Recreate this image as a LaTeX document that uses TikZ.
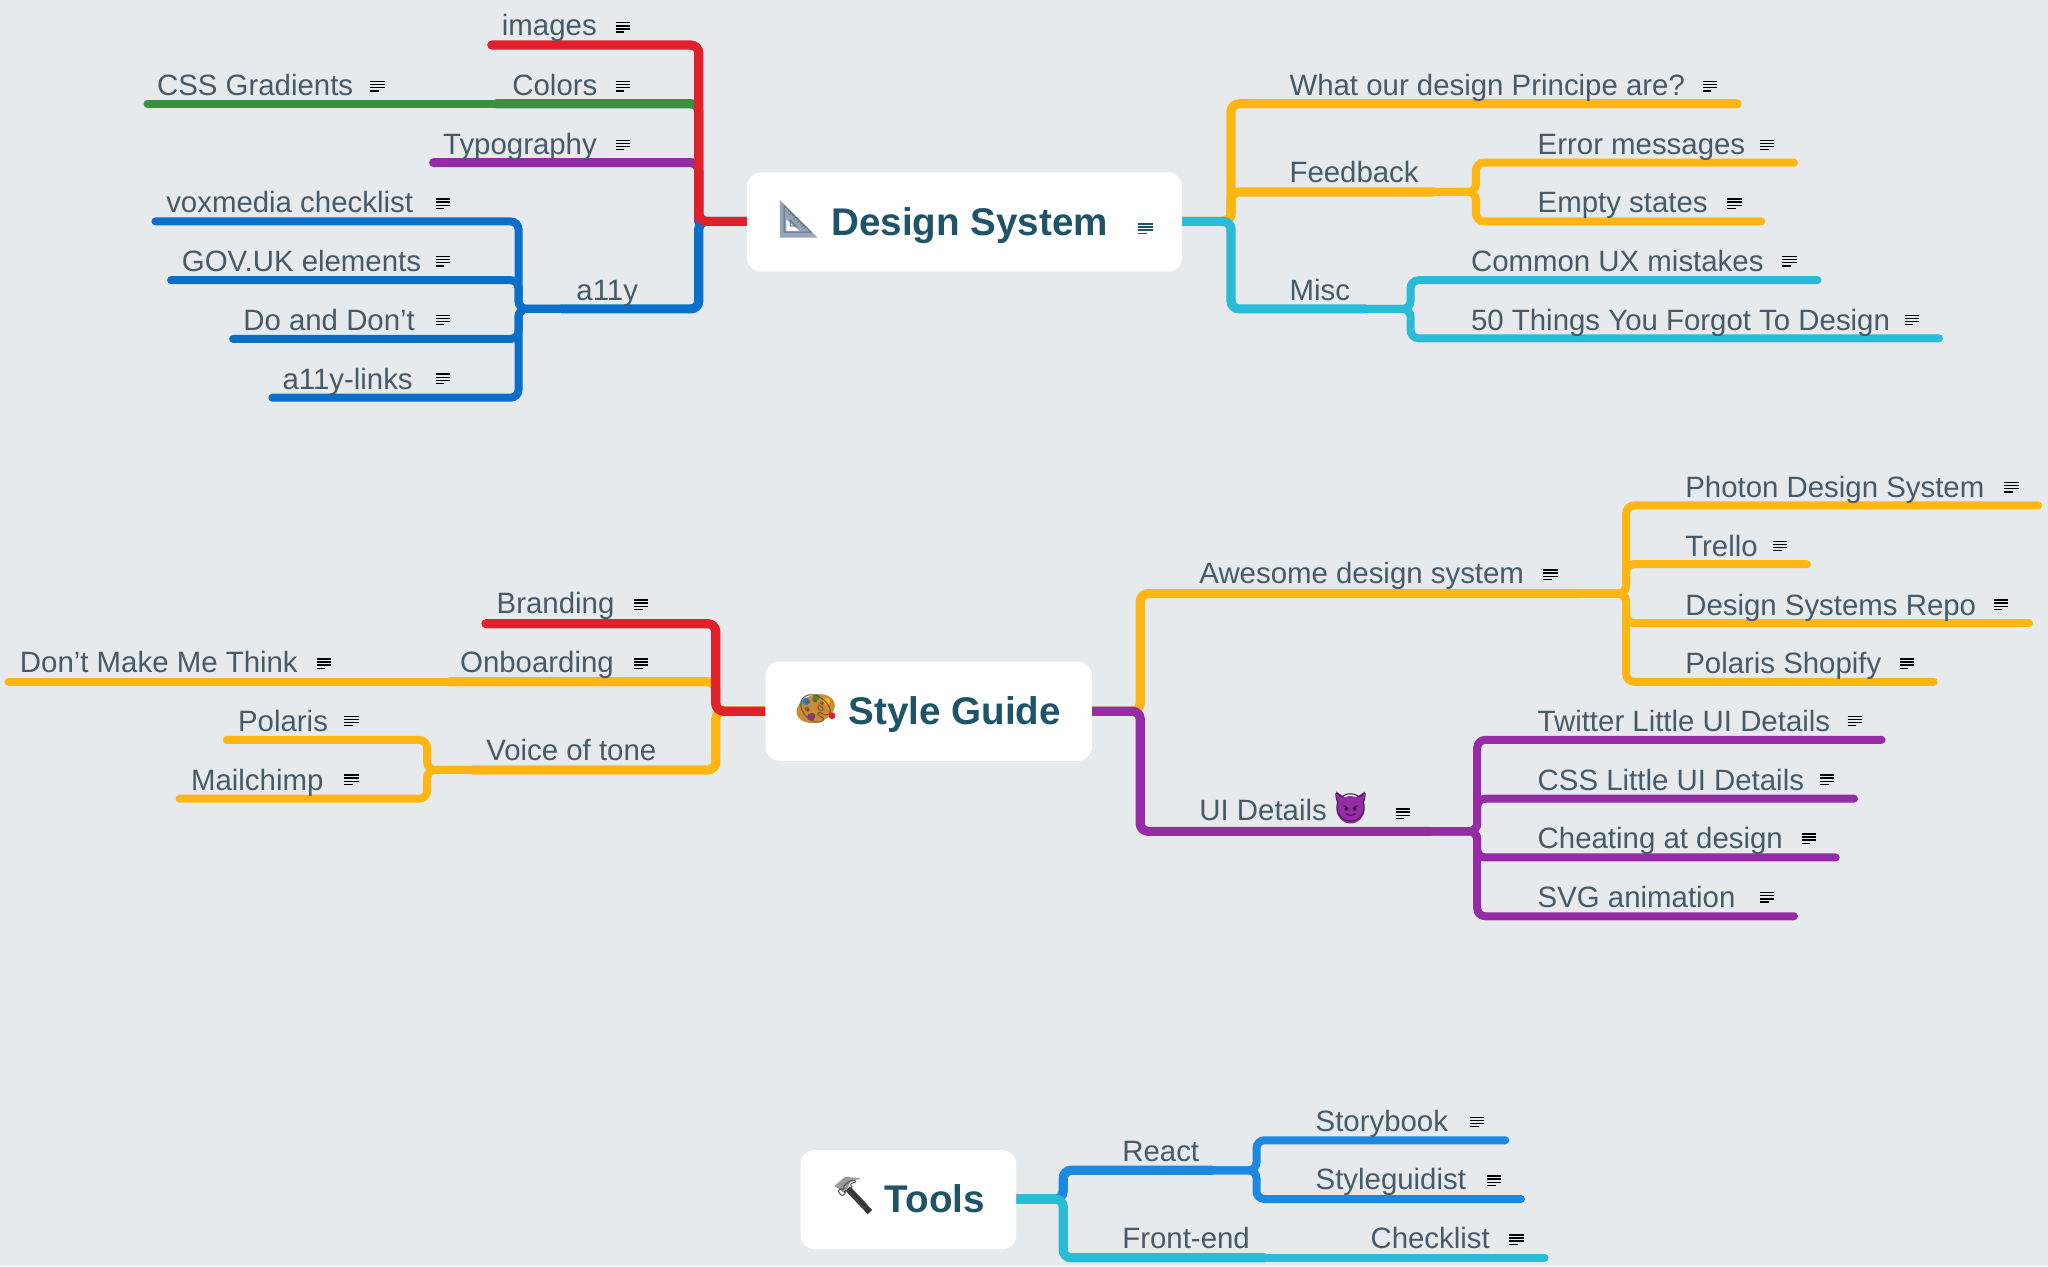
\documentclass[tikz,border=0pt]{standalone}
\usepackage{fontspec}
\setmainfont{Liberation Sans}
\newfontfamily\emojifont{Noto Emoji}
\definecolor{paper}{HTML}{E7EAED}
\definecolor{labelgray}{HTML}{465A68}
\definecolor{roottext}{HTML}{1F5468}
\definecolor{mapred}{HTML}{E0212C}
\definecolor{mapgreen}{HTML}{3A913F}
\definecolor{mappurple}{HTML}{952BA5}
\definecolor{mapblue}{HTML}{0A6FC8}
\definecolor{mapsky}{HTML}{1C88E0}
\definecolor{mapamber}{HTML}{FFB612}
\definecolor{mapcyan}{HTML}{2ABBD6}
\definecolor{setsquare}{HTML}{93A4BB}
\definecolor{palette}{HTML}{C98A3A}
\pgfdeclarelayer{lines}
\pgfsetlayers{lines,main}
\tikzset{
  topic/.style={anchor=base west, inner sep=0pt, text=labelgray, font=\fontsize{14.7}{16}\selectfont},
  root/.style={fill=white, rounded corners=7pt, inner sep=0pt, text=roottext, text height=16pt, text depth=3pt,
    font=\fontsize{19.3}{22}\selectfont\bfseries},
  branch/.style={draw=#1, line width=4.6pt, rounded corners=4pt, line cap=round},
  twig/.style={draw=#1, line width=4pt, rounded corners=4pt, line cap=round},
  emoji/.style={inner sep=0pt, font=\fontsize{14}{16}\selectfont\emojifont},
  notes/.pic={
    \draw[line width=.7pt, draw=#1] (-5.5,-3.6) -- (5.5,-3.6) (-5.5,-1.2) -- (5.5,-1.2) (-5.5,1.2) -- (5.5,1.2) (-5.5,3.6) -- (1,3.6);
  },
  notes/.default=labelgray
}
\begin{document}
\begin{tikzpicture}[x=0.6531pt, y=-0.6531pt]
\begin{pgfonlayer}{lines}
\fill[paper] (0,0) rectangle (1568,969.3);
\end{pgfonlayer}
\useasboundingbox (0,0) rectangle (1568,969.3);

% Design System
\node at (738.5,170) (designSystem) [root, minimum width=217.5pt, minimum height=49.6pt] {\hspace{5pt}Design System};
\fill[setsquare] (597,153) -- (626,182) -- (597,182) -- cycle;
\fill[white] (602,168) -- (612,177) -- (602,177) -- cycle;
\node at (611,168) (setSquare) [emoji, text=setsquare!70!black] {📐};
\pic at (877,175) {notes=roottext};
\coordinate (dsLeft) at (535,169.5);
\coordinate (dsRight) at (942.5,169.5);

% left side
\node at (384,27.5) (images) [topic] {images};
\node at (120,73) (cssGradients) [topic] {CSS Gradients};
\node at (392,73) (colors) [topic] {Colors};
\node at (339,118) (typography) [topic] {Typography};
\node at (441,230) (a11y) [topic] {a11y};
\node at (127,163) (voxmedia) [topic] {voxmedia checklist};
\node at (139,208) (govuk) [topic] {GOV.UK elements};
\node at (186,253) (doDont) [topic] {Do and Don’t};
\node at (216,298) (a11yLinks) [topic] {a11y-links};
\coordinate (imagesEnd) at (376.5,34.5);
\coordinate (colorsEnd) at (380,79.5);
\coordinate (cssEnd) at (113,79.5);
\coordinate (typographyEnd) at (332,124.5);
\coordinate (a11yEnd) at (430,236.5);
\coordinate (a11yJoint) at (397,236.5);
\coordinate (voxEnd) at (119,169.5);
\coordinate (govukEnd) at (131,214.5);
\coordinate (doDontEnd) at (178.5,259.5);
\coordinate (linksEnd) at (208.5,304.5);
\pic at (477,21) {notes};
\pic at (289,66) {notes};
\pic at (477,66) {notes};
\pic at (477,111) {notes};
\pic at (339,156) {notes};
\pic at (339,200) {notes};
\pic at (339,245) {notes};
\pic at (339,290) {notes};

% right side
\node at (987,73) (principle) [topic] {What our design Principe are?};
\node at (987,140) (feedback) [topic] {Feedback};
\node at (1177,118) (errorMsg) [topic] {Error messages};
\node at (1177,163) (emptyStates) [topic] {Empty states};
\node at (987,230) (misc) [topic] {Misc};
\node at (1126,208) (uxMistakes) [topic] {Common UX mistakes};
\node at (1126,253) (fiftyThings) [topic] {50 Things You Forgot To Design};
\coordinate (principleEnd) at (1330,79.5);
\coordinate (feedbackEnd) at (1098,147);
\coordinate (feedbackJoint) at (1130,147);
\coordinate (errorEnd) at (1373.5,124.5);
\coordinate (emptyEnd) at (1348.5,169.5);
\coordinate (miscEnd) at (1045,236.5);
\coordinate (miscJoint) at (1080,236.5);
\coordinate (uxEnd) at (1391.5,214.5);
\coordinate (fiftyEnd) at (1484.5,259);
\pic at (1309,66) {notes};
\pic at (1353,111) {notes};
\pic at (1328,156) {notes};
\pic at (1370,200) {notes};
\pic at (1464,245) {notes};

% Style Guide
\node at (711,544.5) (styleGuide) [root, minimum width=163.3pt, minimum height=49.6pt] {\hspace{26pt}Style Guide};
\fill[rotate around={18:(624.5,542.5)}, fill=palette] (624.5,542.5) ellipse (15 and 10.5);
\fill[mapsky] (617,537) circle (3);
\fill[mapgreen] (625,534) circle (2.6);
\fill[mapamber] (633,537) circle (2.6);
\fill[mapred] (637,548) circle (2.6);
\fill[mappurple] (621,549) circle (3);
\node at (624.5,542.5) (paletteIcon) [emoji, text=palette!60!black] {🎨};
\coordinate (sgLeft) at (548,544.5);
\coordinate (sgRight) at (873,544.5);
\node at (380,470) (branding) [topic] {Branding};
\node at (352,515) (onboarding) [topic] {Onboarding};
\node at (15,515) (dontThink) [topic] {Don’t Make Me Think};
\node at (372,582) (voiceTone) [topic] {Voice of tone};
\node at (182,560) (polaris) [topic] {Polaris};
\node at (146,605) (mailchimp) [topic] {Mailchimp};
\coordinate (brandingEnd) at (372,477.5);
\coordinate (onboardingEnd) at (344,522);
\coordinate (dontEnd) at (6.5,522);
\coordinate (voiceEnd) at (362,589.5);
\coordinate (voiceJoint) at (327,589.5);
\coordinate (polarisEnd) at (173.5,566.5);
\coordinate (mailchimpEnd) at (137.5,611.5);
\pic at (491,463) {notes};
\pic at (491,508) {notes};
\pic at (248,508) {notes};
\pic at (269,552) {notes};
\pic at (269,597) {notes};

\node at (918,447) (awesome) [topic] {Awesome design system};
\node at (1290,381) (photon) [topic] {Photon Design System};
\node at (1290,426) (trello) [topic] {Trello};
\node at (1290,471) (dsRepo) [topic] {Design Systems Repo};
\node at (1290,516) (shopify) [topic] {Polaris Shopify};
\node at (918,628) (uiDetails) [topic] {UI Details};
\fill[mappurple] (1034,620) circle (10.5);
\fill[mappurple] (1023,606) -- (1032,612) -- (1024,620) -- cycle;
\fill[mappurple] (1045,606) -- (1036,612) -- (1044,620) -- cycle;
\node at (1034,618) (devil) [emoji, text=mappurple!45!black] {😈};
\node at (1177,560) (twitterUi) [topic] {Twitter Little UI Details};
\node at (1177,605) (cssUi) [topic] {CSS Little UI Details};
\node at (1177,650) (cheating) [topic] {Cheating at design};
\node at (1177,695) (svgAnim) [topic] {SVG animation};
\coordinate (awesomeEnd) at (1210,454.5);
\coordinate (awesomeJoint) at (1245,454.5);
\coordinate (photonEnd) at (1560.5,387);
\coordinate (trelloEnd) at (1383.5,432);
\coordinate (repoEnd) at (1553.5,477);
\coordinate (shopifyEnd) at (1480.5,522);
\coordinate (uiEnd) at (1095,636.5);
\coordinate (uiJoint) at (1131,636.5);
\coordinate (twitterEnd) at (1440.5,566.5);
\coordinate (cssUiEnd) at (1419.5,611.5);
\coordinate (cheatingEnd) at (1405.5,656.5);
\coordinate (svgEnd) at (1373.5,701.5);
\pic at (1187,440) {notes};
\pic at (1540,373) {notes};
\pic at (1363,418) {notes};
\pic at (1532,463) {notes};
\pic at (1460,508) {notes};
\pic at (1074,623) {notes};
\pic at (1420,552) {notes};
\pic at (1399,597) {notes};
\pic at (1385,642) {notes};
\pic at (1353,687) {notes};

% Tools
\node at (695.5,918.5) (tools) [root, minimum width=107.8pt, minimum height=49.6pt] {\hspace{26.5pt}Tools};
\draw[line width=3pt, black!80] (649,910) -- (666,928);
\fill[black!40] (639,908) -- (647,901) -- (659,902) -- (651,905) -- (647,914) -- cycle;
\node at (653,915) (hammer) [emoji, text=black!70] {🔨};
\coordinate (toolsJoint) at (814,918);
\node at (859,889) (react) [topic] {React};
\node at (859,956) (frontEnd) [topic] {Front-end};
\node at (1007,866) (storybook) [topic] {Storybook};
\node at (1007,911) (styleguidist) [topic] {Styleguidist};
\node at (1049,956) (checklist) [topic] {Checklist};
\coordinate (reactEnd) at (928,896);
\coordinate (reactJoint) at (962,896);
\coordinate (storyEnd) at (1152.5,873);
\coordinate (guidistEnd) at (1164.5,918);
\coordinate (frontEnd2) at (968,963);
\coordinate (checkEnd) at (1182.5,963);
\pic at (1131,859) {notes};
\pic at (1144,904) {notes};
\pic at (1161,949) {notes};

\begin{pgfonlayer}{lines}
% Design System left
\draw[twig=mapgreen] (colorsEnd) -- (cssEnd);
\draw[branch=mapgreen] (dsLeft) |- (colorsEnd);
\draw[branch=mappurple] (dsLeft) |- (typographyEnd);
\draw[twig=mapblue] (a11yEnd) -- (a11yJoint) |- (voxEnd);
\draw[twig=mapblue] (a11yEnd) -- (a11yJoint) |- (govukEnd);
\draw[twig=mapblue] (a11yEnd) -- (a11yJoint) |- (doDontEnd);
\draw[twig=mapblue] (a11yEnd) -- (a11yJoint) |- (linksEnd);
\draw[branch=mapblue] (designSystem.west |- dsLeft) -- (dsLeft) |- (a11yEnd);
\draw[branch=mapred] (designSystem.west |- dsLeft) -- (dsLeft) |- (imagesEnd);
% Design System right
\draw[twig=mapamber] (feedbackEnd) -- (feedbackJoint) |- (errorEnd);
\draw[twig=mapamber] (feedbackEnd) -- (feedbackJoint) |- (emptyEnd);
\draw[branch=mapamber] (designSystem.east |- dsRight) -- (dsRight) |- (principleEnd);
\draw[branch=mapamber] (designSystem.east |- dsRight) -- (dsRight) |- (feedbackEnd);
\draw[twig=mapcyan] (miscEnd) -- (miscJoint) |- (uxEnd);
\draw[twig=mapcyan] (miscEnd) -- (miscJoint) |- (fiftyEnd);
\draw[branch=mapcyan] (designSystem.east |- dsRight) -- (dsRight) |- (miscEnd);
% Style Guide left
\draw[twig=mapamber] (onboardingEnd) -- (dontEnd);
\draw[twig=mapamber] (voiceEnd) -- (voiceJoint) |- (polarisEnd);
\draw[twig=mapamber] (voiceEnd) -- (voiceJoint) |- (mailchimpEnd);
\draw[branch=mapamber] (styleGuide.west |- sgLeft) -- (sgLeft) |- (onboardingEnd);
\draw[branch=mapamber] (styleGuide.west |- sgLeft) -- (sgLeft) |- (voiceEnd);
\draw[branch=mapred] (styleGuide.west |- sgLeft) -- (sgLeft) |- (brandingEnd);
% Style Guide right
\draw[twig=mapamber] (awesomeEnd) -- (awesomeJoint) |- (photonEnd);
\draw[twig=mapamber] (awesomeEnd) -- (awesomeJoint) |- (trelloEnd);
\draw[twig=mapamber] (awesomeEnd) -- (awesomeJoint) |- (repoEnd);
\draw[twig=mapamber] (awesomeEnd) -- (awesomeJoint) |- (shopifyEnd);
\draw[branch=mapamber] (styleGuide.east |- sgRight) -- (sgRight) |- (awesomeEnd);
\draw[twig=mappurple] (uiEnd) -- (uiJoint) |- (twitterEnd);
\draw[twig=mappurple] (uiEnd) -- (uiJoint) |- (cssUiEnd);
\draw[twig=mappurple] (uiEnd) -- (uiJoint) |- (cheatingEnd);
\draw[twig=mappurple] (uiEnd) -- (uiJoint) |- (svgEnd);
\draw[branch=mappurple] (styleGuide.east |- sgRight) -- (sgRight) |- (uiEnd);
% Tools
\draw[twig=mapsky] (reactEnd) -- (reactJoint) |- (storyEnd);
\draw[twig=mapsky] (reactEnd) -- (reactJoint) |- (guidistEnd);
\draw[branch=mapsky] (tools.east |- toolsJoint) -- (toolsJoint) |- (reactEnd);
\draw[twig=mapcyan] (frontEnd2) -- (checkEnd);
\draw[branch=mapcyan] (tools.east |- toolsJoint) -- (toolsJoint) |- (frontEnd2);
\end{pgfonlayer}
\end{tikzpicture}
\end{document}
